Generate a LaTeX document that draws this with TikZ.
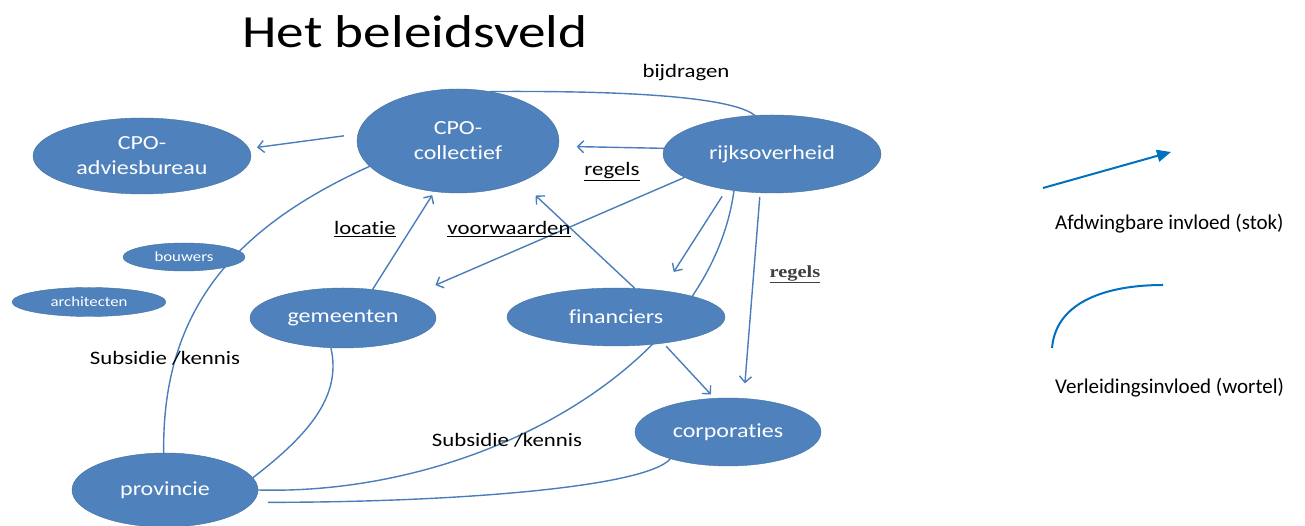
\documentclass[tikz,border=0pt]{standalone}
\usepackage{fontspec}
\setmainfont{Carlito}[Ligatures=NoCommon]
\newfontfamily\wide{Carlito}[FakeStretch=1.2,Ligatures=NoCommon]
\newfontfamily\wideserif{Liberation Serif}[FakeStretch=1.2]
\usepackage{tikz}
\usetikzlibrary{arrows.meta,shapes.geometric,backgrounds}

\definecolor{nodefill}{HTML}{4F81BD}
\definecolor{nodeedge}{HTML}{41719C}
\definecolor{linkblue}{HTML}{4A7EBB}
\definecolor{legblue}{HTML}{0070C0}

\tikzset{
  blob/.style={ellipse, draw=nodeedge, fill=nodefill, text=white, inner sep=0pt,
    align=center, font=\wide\fontsize{20}{25}\selectfont},
  smallblob/.style={blob, font=\wide\fontsize{14}{16}\selectfont},
  lbl/.style={font=\wide\fontsize{19}{22}\selectfont, text=black},
  link/.style={draw=linkblue, line width=1.4pt},
  legtext/.style={font=\fontsize{21}{24}\selectfont, inner sep=0pt, anchor=west},
  leg/.style={draw=legblue, line width=2pt}
}

\begin{document}
\begin{tikzpicture}[x=1pt,y=1pt,>={Straight Barb[length=6pt,width=12pt]}]
\useasboundingbox (0,0) rectangle (1305,526);

\node[anchor=base, font=\wide\fontsize{46}{50}\selectfont] (title) at (415,478) {Het beleidsveld};

\node[blob, minimum width=202pt, minimum height=104pt] (coll) at (458,385) {CPO-\\collectief};
\node[blob, minimum width=218pt, minimum height=76pt] (advies) at (142,370) {CPO-\\adviesbureau};
\node[blob, minimum width=218pt, minimum height=78pt] (rijk) at (772,372) {rijksoverheid};
\node[smallblob, minimum width=122pt, minimum height=28pt] (bouw) at (184,269) {bouwers};
\node[smallblob, minimum width=154pt, minimum height=29pt] (arch) at (89,224) {architecten};
\node[blob, minimum width=186pt, minimum height=60pt] (gem) at (343,208) {gemeenten};
\node[blob, minimum width=218pt, minimum height=58pt] (fin) at (616,209) {financiers};
\node[blob, minimum width=186pt, minimum height=74pt] (prov) at (165,36) {provincie};
\node[blob, minimum width=186pt, minimum height=68pt] (corp) at (728,94) {corporaties};

\node[lbl] (bijdragen) at (686,453) {bijdragen};
\node[lbl] (regelsA) at (612,354) {\underline{regels}};
\node[lbl] (locatie) at (365,297) {\underline{locatie}};
\node[lbl] (voorwaarden) at (509,297) {\underline{voorwaarden}};
\node[font=\wideserif\bfseries\fontsize{17}{20}\selectfont, text=darkgray] (regelsB) at (795,252) {\underline{regels}};
\node[lbl] (subsA) at (165,168) {Subsidie /kennis};
\node[lbl] (subsB) at (507,86) {Subsidie /kennis};

\begin{scope}[on background layer]
\draw[link,->,shorten <=14pt,shorten >=8pt] (coll.176) -- (advies.4);

\draw[link,->,shorten >=18pt] (rijk.177) -- (coll.-3);

\draw[link] (rijk.114) .. controls +(-33,26) and +(42,0) .. (coll.57);

\draw[link,->,shorten >=29pt] (rijk.195) -- (gem.18);

\draw[link,->,shorten <=8pt,shorten >=22pt] (rijk.218) -- (fin.30);

\draw[link] (rijk.224) .. controls +(-24,-175) and +(222,-6) .. (prov.0);

\draw[link,->,shorten >=4pt] (gem.44) -- (coll.245);

\draw[link,->,shorten >=20pt] (fin.57) -- (coll.-33);

\draw[link,->,shorten <=4pt,shorten >=15pt] (rijk.253) -- (corp.65);

\draw[link,->,shorten <=4pt,shorten >=5pt] (fin.-29) -- (corp.112);

\draw[link] (coll.196) .. controls +(-130,-59) and +(-2,147) .. (prov.92);

\draw[link] (gem.-112) .. controls +(11,-48) and +(56,43) .. (prov.8);

\draw[link,shorten >=15pt] (corp.205) .. controls +(-26,-29) and +(197,0) .. (prov.-8);
\end{scope}

% legenda
\coordinate (stokA) at (1043,338);
\coordinate (stokB) at (1171,374);
\draw[leg,-{Triangle[length=14pt,width=12pt]}] (stokA) -- (stokB);
\node[legtext] (stok) at (1055,302) {Afdwingbare invloed (stok)};

\coordinate (wortelA) at (1052,178);
\coordinate (wortelB) at (1163,241);
\draw[leg] (wortelA) to[out=85,in=180] (wortelB);
\node[legtext] (wortel) at (1055,138) {Verleidingsinvloed (wortel)};
\end{tikzpicture}
\end{document}
